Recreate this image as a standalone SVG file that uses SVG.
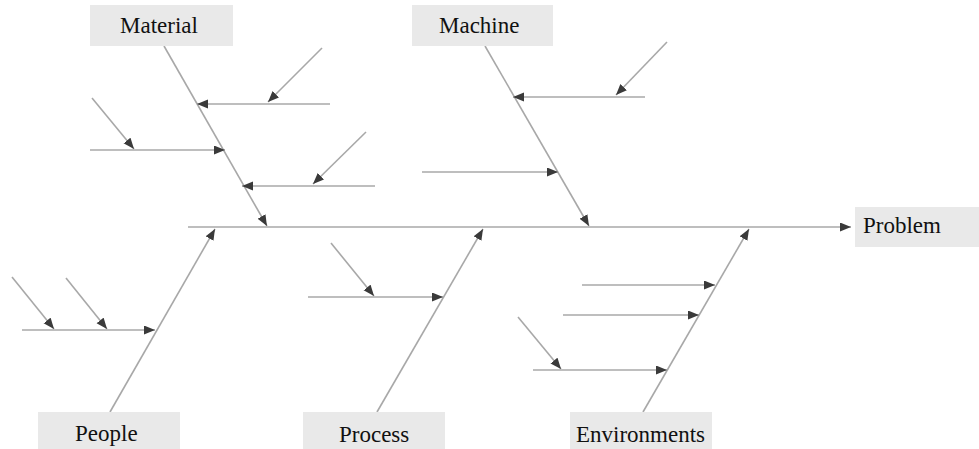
<svg xmlns="http://www.w3.org/2000/svg" width="979" height="449" viewBox="0 0 979 449">
<style>
.box{fill:#e9e9e9}
.lbl{font-family:"Liberation Serif","Times New Roman",serif;font-size:23px;fill:#111}
.ln{stroke:#a8a8a8;stroke-width:1.6;fill:none}
.ar{marker-end:url(#ah)}
</style>
<defs>
<marker id="ah" markerUnits="userSpaceOnUse" markerWidth="12" markerHeight="10" refX="11" refY="4.5" orient="auto">
<path d="M0,0 L11,4.5 L0,9 z" fill="#3a3a3a"/>
</marker>
</defs>
<rect width="979" height="449" fill="#fff"/>
<g id="connectors">
<line class="ln ar" x1="188" y1="227" x2="851" y2="227"/>
<!-- Material -->
<line class="ln ar" x1="164" y1="46" x2="267" y2="226"/>
<line class="ln ar" x1="330" y1="104" x2="197" y2="104"/>
<line class="ln ar" x1="322" y1="48" x2="268" y2="102"/>
<line class="ln ar" x1="90" y1="150" x2="225" y2="150"/>
<line class="ln ar" x1="92" y1="98" x2="134" y2="149"/>
<line class="ln ar" x1="375" y1="186" x2="242" y2="186"/>
<line class="ln ar" x1="366" y1="132" x2="313" y2="184"/>
<!-- Machine -->
<line class="ln ar" x1="485" y1="46" x2="589" y2="226"/>
<line class="ln ar" x1="645" y1="97" x2="513" y2="97"/>
<line class="ln ar" x1="667" y1="42" x2="616" y2="95"/>
<line class="ln ar" x1="422" y1="172" x2="558" y2="172"/>
<!-- People -->
<line class="ln ar" x1="110" y1="412" x2="215" y2="229"/>
<line class="ln ar" x1="22" y1="330" x2="155" y2="330"/>
<line class="ln ar" x1="12" y1="277" x2="54" y2="329"/>
<line class="ln ar" x1="66" y1="278" x2="107" y2="329"/>
<!-- Process -->
<line class="ln ar" x1="377" y1="412" x2="483" y2="229"/>
<line class="ln ar" x1="308" y1="297" x2="443" y2="297"/>
<line class="ln ar" x1="331" y1="243" x2="374" y2="296"/>
<!-- Environments -->
<line class="ln ar" x1="643" y1="412" x2="749" y2="229"/>
<line class="ln ar" x1="582" y1="285" x2="715" y2="285"/>
<line class="ln ar" x1="563" y1="315" x2="699" y2="315"/>
<line class="ln ar" x1="533" y1="370" x2="667" y2="370"/>
<line class="ln ar" x1="518" y1="317" x2="561" y2="369"/>
</g>
<g id="material"><rect class="box" x="90" y="5" width="143" height="41"/><text class="lbl" x="120" y="33">Material</text></g>
<g id="machine"><rect class="box" x="412" y="5" width="141" height="41"/><text class="lbl" x="439" y="33">Machine</text></g>
<g id="people"><rect class="box" x="38" y="412" width="142" height="37"/><text class="lbl" x="75" y="441">People</text></g>
<g id="process"><rect class="box" x="303" y="412" width="142" height="37"/><text class="lbl" x="339" y="442">Process</text></g>
<g id="environments"><rect class="box" x="570" y="412" width="142" height="37"/><text class="lbl" x="576" y="442">Environments</text></g>
<g id="problem"><rect class="box" x="855" y="207" width="124" height="40"/><text class="lbl" x="863" y="233">Problem</text></g>
</svg>
